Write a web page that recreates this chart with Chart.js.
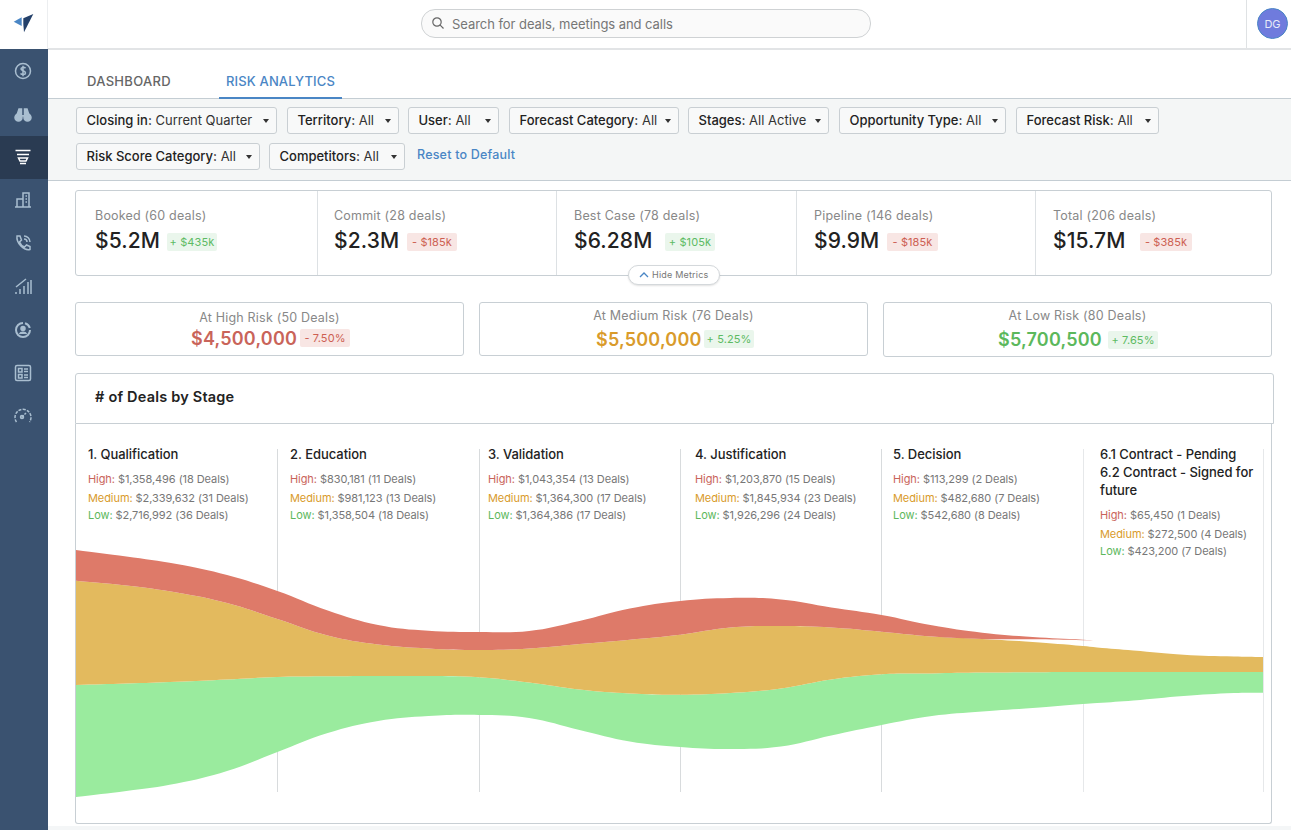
<!DOCTYPE html>
<html>
<head>
<meta charset="utf-8">
<title>Risk Analytics</title>
<script src="https://cdn.jsdelivr.net/npm/chart.js@4"></script>
<style>
  html, body { margin: 0; padding: 0; background: #fff; overflow: hidden; }
  body { width: 1291px; height: 830px; position: relative; font-family: Inter, "Noto Sans", sans-serif; color: #222; }
  .abs { position: absolute; white-space: nowrap; }
  #side { position: absolute; left: 0; top: 49px; width: 48px; height: 781px; background: #3a5270; }
  #sideActive { position: absolute; left: 0; top: 87px; width: 48px; height: 43px; background: #2a3b52; }
  #side svg { position: absolute; left: 13px; width: 20px; height: 20px; fill: none; stroke: #a9bed0; stroke-width: 1.5; }
  #topLine { position: absolute; left: 48px; top: 48px; width: 1243px; height: 2px; background: #e2e4e6; }
  #sideEdge { position: absolute; left: 47px; top: 0; width: 1px; height: 49px; background: #eceef0; }
  #search { position: absolute; left: 421px; top: 9px; width: 448px; height: 27px; border: 1px solid #cfd2d4; border-radius: 14px; background: #fafafa; }
  #search span { position: absolute; left: 30px; top: 6px; font-size: 13px; letter-spacing: -.05px; color: #767676; }
  #avatar { position: absolute; left: 1257px; top: 8px; width: 29px; height: 29px; border-radius: 50%; background: #6f7bdd; border: 1px solid #4a86c5; color: #e8eaf8; font-size: 11px; line-height: 30px; text-align: center; }
  #topDiv { position: absolute; left: 1246px; top: 0; width: 1px; height: 48px; background: #dfe2e4; }
  .tab { position: absolute; top: 73px; font-size: 13px; font-weight: 500; letter-spacing: .3px; }
  #tabLine { position: absolute; left: 219px; top: 97px; width: 123px; height: 2px; background: #4a86c5; }
  #filters { position: absolute; left: 48px; top: 98px; width: 1243px; height: 81px; background: #f4f6f6; border-top: 1px solid #c4cdd3; border-bottom: 1px solid #c4cdd3; }
  .chip { position: absolute; height: 25px; box-sizing: content-box; border: 1px solid #c9cfd3; border-radius: 3px; background: #f8f9f9; font-size: 13px; line-height: 24px; color: #333; white-space: nowrap; }
  .chip b { font-weight: 500; color: #222; }
  .chip span { position: absolute; left: 9.5px; top: 0; }
  .chip i { position: absolute; top: 11px; width: 0; height: 0; border-left: 3px solid transparent; border-right: 3px solid transparent; border-top: 4px solid #333; }
  .box { position: absolute; box-sizing: border-box; border: 1px solid #c8cfd4; border-radius: 3px; background: #fff; }
  .vdiv { position: absolute; width: 1px; background: #dde1e4; }
  .lab { position: absolute; font-size: 12.5px; letter-spacing: .2px; color: #888; white-space: nowrap; }
  .big { position: absolute; font-size: 21px; font-weight: 500; letter-spacing: .1px; color: #222; white-space: nowrap; }
  .pill { position: absolute; height: 18px; line-height: 18px; border-radius: 2px; font-size: 11px; letter-spacing: .1px; text-align: center; white-space: nowrap; }
  .up { background: #eaf6ec; color: #5dbb63; }
  .down { background: #f8e6e4; color: #cd5f52; }
  .riskVal { position: absolute; font-size: 18px; font-weight: 600; letter-spacing: .2px; white-space: nowrap; }
  #hide { position: absolute; left: 628px; top: 265px; width: 90px; height: 18px; border: 1px solid #d4d8db; border-radius: 10px; background: #fff; box-shadow: 0 1px 2px rgba(0,0,0,.12); font-size: 9px; color: #777; letter-spacing: .2px; line-height: 18px; }
  .stageTitle { position: absolute; font-size: 13px; font-weight: 500; line-height: 18px; color: #222; letter-spacing: -.04px; white-space: nowrap; }
  .stageLine { position: absolute; font-size: 11px; line-height: 14px; color: #777; letter-spacing: -.07px; white-space: nowrap; }
  .high { color: #c9645a; } .medium { color: #d99b2b; } .low { color: #5cb85c; }
  #cardTitle { position: absolute; left: 95px; top: 388px; font-size: 14.5px; font-weight: 600; letter-spacing: .2px; color: #222; }
  #flowChart { position: absolute; left: 76px; top: 449px; }
  #bottomFade { position: absolute; left: 48px; top: 826px; width: 1243px; height: 4px; background: #f4f6f7; }
</style>
</head>
<body>
<div id="sideEdge"></div>
<svg class="abs" style="left:13px;top:13px" width="22" height="22" viewBox="0 0 22 22">
  <path d="M.7 8.7 L8.7 4.3 L8.7 13 Z" fill="#4a86c5"/>
  <path d="M20.3 1 L10.3 5.3 L10.3 11 L11 19.3 Z" fill="#24406a"/>
</svg>
<div id="side">
  <div id="sideActive"></div>
  <svg style="top:12px" viewBox="0 0 20 20"><circle cx="10" cy="10" r="7.5"/><path d="M12.5 7.2 C11.5 6 8 6 8 8 C8 10 12.5 9.6 12.5 12 C12.5 14 8.8 14 7.5 12.6 M10 4.8 V15.2"/></svg>
  <svg style="top:56px" viewBox="0 0 20 20"><circle cx="5.5" cy="12.5" r="3.5" fill="#a9bed0"/><circle cx="14.5" cy="12.5" r="3.5" fill="#a9bed0"/><path d="M4 10 L6 4 H8.5 V11 H11.5 V4 H14 L16 10" fill="#a9bed0"/></svg>
  <svg style="top:98px;stroke:#fff" viewBox="0 0 20 20"><path d="M2.5 3.5 H17.5 M4 7.5 H16 M5.5 11 H14.5 L13 14 H7 Z M7 16.5 H13"/></svg>
  <svg style="top:141px" viewBox="0 0 20 20"><path d="M2 17 H18 M10 17 V3 H16 V17 M4 17 V9 H10 M12.5 6 H14 M12.5 9 H14 M12.5 12 H14"/></svg>
  <svg style="top:184px" viewBox="0 0 20 20"><path d="M4 3 L7 3 L8.5 7 L6.5 9 C7.5 11.5 9 13 11.5 14 L13.5 12 L17 13.5 L17 16.5 C11 18 3 10 4 3 Z M11 3 A6 6 0 0 1 17 9 M11 6 A3 3 0 0 1 14 9"/></svg>
  <svg style="top:228px" viewBox="0 0 20 20"><path d="M3 17 V15 M7 17 V12 M11 17 V9 M15 17 V5 M18 17 V3 M3 10 L13 2"/></svg>
  <svg style="top:271px" viewBox="0 0 20 20"><path d="M17 10 A7 7 0 1 1 10 3 M12 3.2 A7 7 0 0 1 16.8 8" stroke-width="2"/><circle cx="10" cy="8.5" r="2" fill="#a9bed0"/><path d="M6.5 14 C7.5 11.5 12.5 11.5 13.5 14" fill="#a9bed0"/></svg>
  <svg style="top:314px" viewBox="0 0 20 20"><rect x="2.5" y="2.5" width="15" height="15" rx="1.5"/><path d="M5.5 5.5 H9 V9 H5.5 Z M11 6 H15 M11 8.5 H15 M5.5 11.5 H9 V15 H5.5 Z M11 12 H15 M11 14.5 H15"/></svg>
  <svg style="top:357px" viewBox="0 0 20 20"><path d="M3.5 16 A8 8 0 1 1 16.5 16 M8.5 11.5 L13 7" stroke-dasharray="3 1.2"/><circle cx="9" cy="11" r="1.5"/></svg>
</div>
<div id="topLine"></div>
<div id="search"><svg class="abs" style="left:9px;top:6px" width="14" height="14" viewBox="0 0 14 14" fill="none" stroke="#666" stroke-width="1.2"><circle cx="6" cy="6" r="4.2"/><path d="M9.2 9.2 L12.5 12.5"/></svg><span>Search for deals, meetings and calls</span></div>
<div id="topDiv"></div>
<div id="avatar">DG</div>

<div class="tab" style="left:87px;color:#666">DASHBOARD</div>
<div class="tab" style="left:226px;color:#4a86c5;letter-spacing:.15px">RISK ANALYTICS</div>
<div id="filters"></div>
<div id="tabLine"></div>
<div id="chips"></div>
<div class="abs" style="left:417px;top:147px;font-size:12.5px;font-weight:500;letter-spacing:.2px;color:#4a86c5">Reset to Default</div>

<div class="box" style="left:75px;top:190px;width:1197px;height:86px"></div>
<div id="metrics"></div>
<div id="hide"><svg class="abs" style="left:10px;top:6px" width="10" height="6" viewBox="0 0 10 6" fill="none" stroke="#4a86c5" stroke-width="1.3"><path d="M1 5 L5 1 L9 5"/></svg><span class="abs" style="left:23px">Hide Metrics</span></div>

<div class="box" style="left:75px;top:302px;width:389px;height:54px"></div>
<div class="box" style="left:479px;top:302px;width:389px;height:54px"></div>
<div class="box" style="left:883px;top:302px;width:389px;height:55px"></div>
<div id="risks"></div>

<div class="box" style="left:75px;top:424px;width:1197px;height:400px;border-top:none;border-radius:0 0 3px 3px"></div>
<div class="box" style="left:75px;top:373px;width:1199px;height:51px;border-radius:3px 3px 0 0"></div>
<div id="cardTitle"># of Deals by Stage</div>
<div id="stages"></div>
<canvas id="flowChart" width="1187" height="351"></canvas>
<div id="bottomFade"></div>

<script>
// filter chips: label, value, left, width, arrow offset
const filterLabels = ['Closing in:', 'Territory:', 'User:', 'Forecast Category:', 'Stages:', 'Opportunity Type:', 'Forecast Risk:', 'Risk Score Category:', 'Competitors:'];
const filterValues = ['Current Quarter', 'All', 'All', 'All', 'All Active', 'All', 'All', 'All', 'All'];
const filterBoxes = [[76, 107, 201], [287, 107, 112], [408, 107, 91], [509, 107, 170], [688, 107, 141], [839, 107, 167], [1016, 107, 143], [76, 143, 184], [269, 143, 136]];

// top metric strip
const metricLabels = ['Booked (60 deals)', 'Commit (28 deals)', 'Best Case (78 deals)', 'Pipeline (146 deals)', 'Total (206 deals)'];
const metricValues = ['$5.2M', '$2.3M', '$6.28M', '$9.9M', '$15.7M'];
const metricDeltas = ['+ $435k', '-  $185k', '+ $105k', '-  $185k', '-  $385k'];
const metricDirs = ['up', 'down', 'up', 'down', 'down'];
const metricLeft = [95, 334, 574, 814, 1053];
const metricPill = [[167, 50], [407, 50], [665, 50], [887, 51], [1140, 52]];

// risk cards
const riskLabels = ['At High Risk (50 Deals)', 'At Medium Risk (76 Deals)', 'At Low Risk (80 Deals)'];
const riskValues = ['$4,500,000', '$5,500,000', '$5,700,500'];
const riskDeltas = ['-  7.50%', '+ 5.25%', '+ 7.65%'];
const riskDirs = ['down', 'up', 'up'];
const riskClass = ['high', 'medium', 'low'];

// stages and their values
const stageNames = ['1. Qualification', '2. Education', '3. Validation', '4. Justification', '5. Decision', '6.1 Contract - Pending<br>6.2 Contract - Signed for<br>future'];
const stageHigh = ['$1,358,496 (18 Deals)', '$830,181 (11 Deals)', '$1,043,354 (13 Deals)', '$1,203,870 (15 Deals)', '$113,299 (2 Deals)', '$65,450 (1 Deals)'];
const stageMedium = ['$2,339,632 (31 Deals)', '$981,123 (13 Deals)', '$1,364,300 (17 Deals)', '$1,845,934 (23 Deals)', '$482,680 (7 Deals)', '$272,500 (4 Deals)'];
const stageLow = ['$2,716,992 (36 Deals)', '$1,358,504 (18 Deals)', '$1,364,386 (17 Deals)', '$1,926,296 (24 Deals)', '$542,680 (8 Deals)', '$423,200 (7 Deals)'];
const stageTextLeft = [88, 290, 488, 695, 893, 1100];
const stageLineLeft = [277, 478.5, 680, 881, 1083, 1262.5];

// flow bands. x is in stages, y in chart units from the floor
const flowX = [0, .25, .5, .75, 1, 1.25, 1.5, 1.75, 2, 2.25, 2.5, 2.75, 3, 3.25, 3.5, 3.75, 4, 4.25, 4.5, 4.75, 5, 5.07, 5.25, 5.5, 5.75, 5.894];
const highTop = [250, 243.5, 236, 225, 209, 189.5, 175, 169.2, 168, 169, 179, 191.5, 199, 202, 200.5, 192.5, 185, 174.7, 167.3, 163, 160.3, 159.6];
const highBottom = [219.3, 214.5, 207.5, 197, 181, 164.5, 155.5, 151.5, 150, 151.5, 156, 160.3, 165.3, 172.5, 174, 172.5, 168.3, 163.5, 161, 160.7, 159.7, 159.6];
const mediumTop = [219.3, 214.5, 207.5, 197, 181, 164.5, 155.5, 151.5, 150, 151.5, 156, 160.3, 165.3, 172.5, 174, 172.5, 168.3, 163.5, 161, 158, 154, 152.5, 149.5, 145.3, 143.5, 143];
const lowTop = [115, 116.5, 118.3, 120.5, 123, 123.7, 124, 124, 122.8, 117.5, 110.5, 106.5, 105.3, 107, 111.5, 120.5, 125.7, 126.6, 127.4, 127.8, 128, 128, 128, 128, 128, 128];
const lowBottom = [3, 9, 16.5, 29, 48, 67, 79, 84, 85, 82, 70, 58.5, 53, 51, 53.5, 64.5, 75, 84, 88.5, 92, 96, 96.9, 99.5, 104, 107, 107.3];

const addHtml = (id, html) => { document.getElementById(id).insertAdjacentHTML('beforeend', html); };

filterLabels.forEach((label, i) => {
  const [left, top, width] = filterBoxes[i];
  addHtml('chips', `<div class="chip" style="left:${left}px;top:${top}px;width:${width - 2}px"><span><b>${label}</b> ${filterValues[i]}</span><i style="left:${width - 15}px"></i></div>`);
});

[317, 556, 796, 1035].forEach(x => addHtml('metrics', `<div class="vdiv" style="left:${x}px;top:191px;height:84px"></div>`));
metricLabels.forEach((label, i) => {
  addHtml('metrics', `<div class="lab" style="left:${metricLeft[i]}px;top:208px">${label}</div>`);
  addHtml('metrics', `<div class="big" style="left:${metricLeft[i]}px;top:228px">${metricValues[i]}</div>`);
  addHtml('metrics', `<div class="pill ${metricDirs[i]}" style="left:${metricPill[i][0]}px;top:233px;width:${metricPill[i][1]}px">${metricDeltas[i]}</div>`);
});

const riskLabelBox = [[75, 310], [479, 308], [883, 308]];
const riskValueLeft = [191, 596, 998];
const riskValueTop = [328, 329, 329];
const riskPillLeft = [300, 704, 1108];
const riskPillTop = [329, 330, 331];
riskLabels.forEach((label, i) => {
  addHtml('risks', `<div class="lab" style="left:${riskLabelBox[i][0]}px;top:${riskLabelBox[i][1]}px;width:389px;text-align:center">${label}</div>`);
  addHtml('risks', `<div class="riskVal ${riskClass[i]}" style="left:${riskValueLeft[i]}px;top:${riskValueTop[i]}px">${riskValues[i]}</div>`);
  addHtml('risks', `<div class="pill ${riskDirs[i]}" style="left:${riskPillLeft[i]}px;top:${riskPillTop[i]}px;width:50px">${riskDeltas[i]}</div>`);
});

stageNames.forEach((name, i) => {
  const offset = i === 5 ? 36 : 0;
  addHtml('stages', `<div class="stageTitle" style="left:${stageTextLeft[i]}px;top:445px">${name}</div>`);
  addHtml('stages', `<div class="stageLine" style="left:${stageTextLeft[i]}px;top:${472 + offset}px"><span class="high">High:</span> ${stageHigh[i]}</div>`);
  addHtml('stages', `<div class="stageLine" style="left:${stageTextLeft[i]}px;top:${490.5 + offset}px"><span class="medium">Medium:</span> ${stageMedium[i]}</div>`);
  addHtml('stages', `<div class="stageLine" style="left:${stageTextLeft[i]}px;top:${508 + offset}px"><span class="low">Low:</span> ${stageLow[i]}</div>`);
  addHtml('stages', `<div class="vdiv" style="left:${stageLineLeft[i]}px;top:449px;height:343px;background:${i > 3 ? '#e6e8ea' : '#d8dbdd'}"></div>`);
});

const toPoints = values => values.map((y, i) => ({ x: flowX[i], y }));
const band = (label, values, fill, color) => ({
  label,
  data: toPoints(values),
  fill,
  backgroundColor: color,
  borderWidth: 0,
  pointRadius: 0,
  tension: 0.4
});

new Chart(document.getElementById('flowChart'), {
  type: 'line',
  data: {
    datasets: [
      band('High', highTop, '+1', '#de7a69'),
      band('High floor', highBottom, false, 'transparent'),
      band('Medium', mediumTop, '+1', '#e3ba5e'),
      band('Low', lowTop, '+1', '#9aeb9e'),
      band('Low floor', lowBottom, false, 'transparent')
    ]
  },
  options: {
    responsive: false,
    animation: false,
    layout: { padding: 0 },
    plugins: { legend: { display: false }, tooltip: { enabled: false } },
    scales: {
      x: { type: 'linear', display: false, min: 0, max: 5.894 },
      y: { display: false, min: 0, max: 351 }
    }
  }
});
</script>
</body>
</html>
